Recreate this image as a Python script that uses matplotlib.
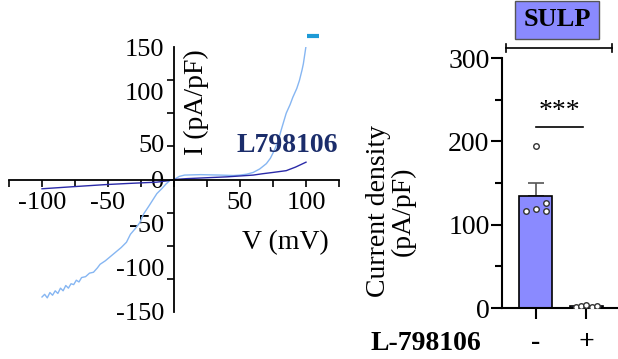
import numpy as np
import matplotlib
matplotlib.use("Agg")
import matplotlib.pyplot as plt

plt.rcParams['font.family'] = ['Liberation Serif', 'DejaVu Serif']

# I-V curves (mV, pA/pF)
v_ctrl = [-100, -98, -96, -94, -92, -90, -88, -86, -84, -82, -80, -78, -76, -74, -72, -70,
          -67, -64, -61, -58, -56, -52, -48, -44, -40, -36, -33, -29, -26, -23, -19, -16,
          -13, -9, -6, -3, 0, 4, 8, 20, 35, 45, 50, 55, 60, 65, 70, 73, 76, 79, 81, 83,
          85, 88, 90, 93, 95, 97, 98, 100]
i_ctrl = [-133, -130, -134, -128, -131, -126, -129, -123, -126, -120, -123, -118, -119, -114, -116, -111,
          -110, -106, -105, -100, -96, -92, -87, -82, -77, -71, -62, -55, -49, -39, -30, -23,
          -16, -10, -5, -1, 0, 3.5, 5, 5.5, 5, 4.5, 5, 6, 8, 12, 18, 24, 33, 44, 55, 65,
          75, 85, 93, 103, 112, 124, 131, 151]
v_l79 = [-100, -75, -51, -35, -13, -5, 0, 10, 25, 40, 50, 60, 67, 75, 85, 92, 100]
i_l79 = [-10.5, -8, -5.7, -4.5, -3, -1.5, 0, 1, 2, 3, 4, 5, 6.5, 8, 10, 14, 19.6]

# bar chart
groups = ['-', '+']
means = [134.6, 2.0]
errs = [15.0, 1.0]
pts_ctrl = [117, 119, 126, 116, 195]
pts_ctrl_dx = [-0.18, 0.0, 0.21, 0.21, 0.0]
pts_l79 = [1, 2, 1.5, 2.5, 4]
pts_l79_dx = [-0.2, -0.1, 0.1, 0.2, 0.0]

light = '#86b6f2'
dark = '#2a2aa8'
barc = '#8a8aff'
fs = 19

fig = plt.figure(figsize=(6.18, 3.59), dpi=100)

# ---- left: I-V plot ----
ax = fig.add_axes([9/618, 47/359, 330/618, 265/359])
ax.plot(v_ctrl, i_ctrl, color=light, lw=1.0)
ax.plot(v_l79, i_l79, color=dark, lw=1.0)
ax.set_xlim(-125, 125)
ax.set_ylim(-150, 150)
for s in ['left', 'bottom']:
    ax.spines[s].set_position('zero')
    ax.spines[s].set_linewidth(1.3)
for s in ['right', 'top']:
    ax.spines[s].set_visible(False)

xt = np.arange(-125, 126, 25)
ax.set_xticks(xt)
ax.set_xticklabels(['' if t not in (-100, -50, 50, 100) else str(int(t)) for t in xt], fontsize=fs)
ax.tick_params(axis='x', direction='out', length=5, width=1.2, pad=4)

ax.set_yticks(np.arange(-150, 151, 37.5), minor=True)
ax.set_yticks([-150, -100, -50, 0, 41, 100, 150])
ax.set_yticklabels(['-150', '-100', '-50', '0', '50', '100', '150'], fontsize=fs)
ax.tick_params(axis='y', which='major', length=0, pad=7)
ax.tick_params(axis='y', which='minor', direction='out', length=5, width=1.2)

ax.text(17, 88, 'I (pA/pF)', rotation=90, ha='center', va='center', fontsize=fs + 1)
ax.text(84, -72, 'V (mV)', ha='center', va='center', fontsize=fs + 1)
ax.text(86, 38, 'L798106', ha='center', va='center', fontsize=fs + 1, fontweight='bold', color='#1b2d6b')
ax.plot([101, 110], [163, 163], color='#1e9ad6', lw=3, clip_on=False, solid_capstyle='butt')

# ---- right: bar chart ----
ax2 = fig.add_axes([502/618, 51/359, 116/618, 250/359])
x = np.arange(len(groups))
ax2.bar(x, means, width=0.65, color=barc, edgecolor='black', linewidth=1.2, zorder=2)
ax2.errorbar(x, means, yerr=[[0, 0], errs], fmt='none', ecolor='#555555', elinewidth=1.2,
             capsize=6, capthick=1.2, zorder=1)
ax2.scatter(x[0] + np.array(pts_ctrl_dx), pts_ctrl, s=16, facecolor='white', edgecolor='#333333',
            linewidth=1.0, zorder=3)
ax2.scatter(x[1] + np.array(pts_l79_dx), pts_l79, s=16, facecolor='white', edgecolor='#333333',
            linewidth=1.0, zorder=3)
ax2.set_xlim(-0.66, 1.62)
ax2.set_ylim(0, 300)
ax2.spines['right'].set_visible(False)
ax2.spines['top'].set_visible(False)
ax2.spines['left'].set_linewidth(1.5)
ax2.spines['bottom'].set_linewidth(1.5)
ax2.set_yticks([0, 100, 200, 300])
ax2.set_yticklabels(['0', '100', '200', '300'], fontsize=fs + 1)
ax2.set_yticks([50, 150, 250], minor=True)
ax2.tick_params(axis='y', which='major', length=8, width=1.5, pad=1)
ax2.tick_params(axis='y', which='minor', length=5, width=1.5)
ax2.set_xticks(x)
ax2.set_xticklabels(groups, fontsize=fs + 1, fontweight='bold')
ax2.tick_params(axis='x', length=8, width=1.5, pad=8)

ax2.plot([0, 0.93], [217, 217], color='black', lw=1.2)
ax2.text(0.46, 221, '***', ha='center', va='bottom', fontsize=fs + 1)

fig.text(391/618, 1 - 211/359, 'Current density\n(pA/pF)', rotation=90, ha='center', va='center',
         fontsize=fs + 1, multialignment='center', linespacing=1.0)
fig.text(426/618, 1 - 343/359, 'L-798106', ha='center', va='center', fontsize=fs + 1, fontweight='bold')
fig.text(557/618, 1 - 20/359, 'SULP', ha='center', va='center', fontsize=19, fontweight='bold',
         bbox=dict(boxstyle='square,pad=0.3', facecolor=barc, edgecolor='#555555', linewidth=1))
fig.add_artist(plt.Line2D([506/618, 612/618], [1 - 48/359, 1 - 48/359], color='black', lw=1.2))
fig.add_artist(plt.Line2D([506/618, 506/618], [1 - 44/359, 1 - 52/359], color='black', lw=1.2))
fig.add_artist(plt.Line2D([612/618, 612/618], [1 - 44/359, 1 - 52/359], color='black', lw=1.2))

fig.savefig('out.png', dpi=100)
